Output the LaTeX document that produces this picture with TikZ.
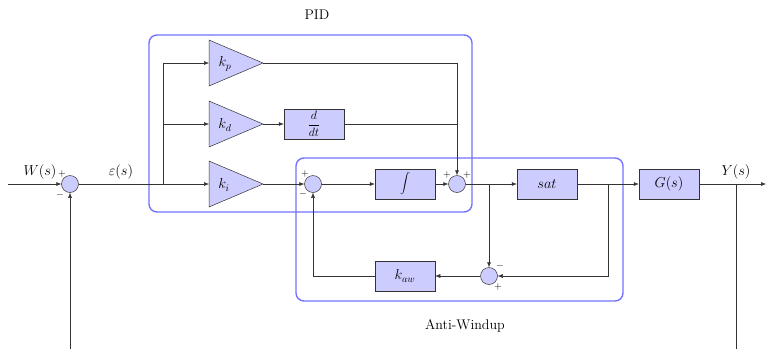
\documentclass[tikz,border=0pt]{standalone}
\usetikzlibrary{arrows.meta}
\begin{document}
\begin{tikzpicture}[x=1pt,y=-1pt,
  font=\fontsize{14}{16}\selectfont,
  line width=0.5pt,
  wire/.style={draw=black!80},
  arr/.style={wire,-{Latex[length=5pt,width=4pt]}},
  blockbox/.style={draw=black!80,fill=blue!20,minimum width=60pt,minimum height=30pt,inner sep=0pt},
  sumnode/.style={draw=black!80,fill=blue!20,circle,minimum size=17pt,inner sep=0pt},
  gaintri/.style={draw=black!80,fill=blue!20},
  sgn/.style={font=\fontsize{10}{11}\selectfont,inner sep=0pt},
  region/.style={draw=blue!55,line width=1.4pt,rounded corners=8pt}]
\useasboundingbox (0,0) rectangle (766,349);
% regions
\draw[region] (149,35) rectangle (472,212);
\draw[region] (296,158) rectangle (623,301);
\node[inner sep=0pt] (pidlbl) at (317,15) {PID};
\node[inner sep=0pt] (awlbl) at (465,326) {Anti-Windup};
% sums
\node[sumnode] (s1) at (70,184) {};
\node[sumnode] (s2) at (313,184) {};
\node[sumnode] (s3) at (457,184) {};
\node[sumnode] (s4) at (489,276) {};
% gains (triangles)
\draw[gaintri] (209,40) -- (263,63) -- (209,86) -- cycle;
\draw[gaintri] (209,101) -- (263,124) -- (209,147) -- cycle;
\draw[gaintri] (209,161) -- (263,184) -- (209,207) -- cycle;
\node (kp) at (225,64) {$k_p$};
\node (kd) at (225,125) {$k_d$};
\node (ki) at (224,185) {$k_i$};
\coordinate (kpin) at (209,63); \coordinate (kpout) at (263,63);
\coordinate (kdin) at (209,124); \coordinate (kdout) at (263,124);
\coordinate (kiin) at (209,184); \coordinate (kiout) at (263,184);
% blocks
\node[blockbox,font=\fontsize{12}{14}\selectfont] (ddt) at (314,124) {$\displaystyle\frac{d}{dt}$};
\node[blockbox,font=\fontsize{12}{14}\selectfont] (int) at (405,184) {$\displaystyle\int$};
\node[blockbox] (sat) at (547,184) {$sat$};
\node[blockbox] (kaw) at (405,276) {$k_{aw}$};
\node[blockbox] (G) at (669,184) {$G(s)$};
% coordinates
\coordinate (win) at (8,184);
\coordinate (br1) at (163,184);
\coordinate (br1p) at (163,63);
\coordinate (br1d) at (163,124);
\coordinate (kpc) at (457,63);
\coordinate (ddtc) at (457,124);
\coordinate (br2) at (489,184);
\coordinate (br3) at (608,184);
\coordinate (br3b) at (608,276);
\coordinate (yout) at (766,184);
\coordinate (br4) at (736,184);
\coordinate (fb4) at (736,349);
\coordinate (fb1) at (70,349);
\coordinate (kawl) at (313,276);
% wires
\draw[arr] (win) -- (s1.west);
\draw[wire] (s1.east) -- (br1);
\draw[arr] (br1) -- (kiin);
\draw[arr] (br1) -- (br1p) -- (kpin);
\draw[arr] (br1d) -- (kdin);
\draw[arr] (kdout) -- (ddt.west);
\draw[arr] (kiout) -- (s2.west);
\draw[arr] (s2.east) -- (int.west);
\draw[arr] (int.east) -- (s3.west);
\draw[arr] (kpout) -- (kpc) -- (s3.north);
\draw[wire] (ddt.east) -- (ddtc);
\draw[arr] (s3.east) -- (sat.west);
\draw[arr] (sat.east) -- (G.west);
\draw[arr] (G.east) -- (yout);
\draw[arr] (br2) -- (s4.north);
\draw[arr] (br3) -- (br3b) -- (s4.east);
\draw[arr] (s4.west) -- (kaw.east);
\draw[arr] (kaw.west) -- (kawl) -- (s2.south);
\draw[wire] (br4) -- (fb4);
\draw[arr] (fb1) -- (s1.south);
% labels
\node (wlbl) at (40,172) {$W(s)$};
\node (elbl) at (121,172) {$\varepsilon(s)$};
\node (ylbl) at (736,172) {$Y(s)$};
% signs
\node[sgn] at (62,174) {$+$};
\node[sgn] at (60,195) {$-$};
\node[sgn] at (305,174) {$+$};
\node[sgn] at (303,194) {$-$};
\node[sgn] at (447,175) {$+$};
\node[sgn] at (467,175) {$+$};
\node[sgn] at (500,266) {$-$};
\node[sgn] at (498,287) {$+$};
\end{tikzpicture}
\end{document}
